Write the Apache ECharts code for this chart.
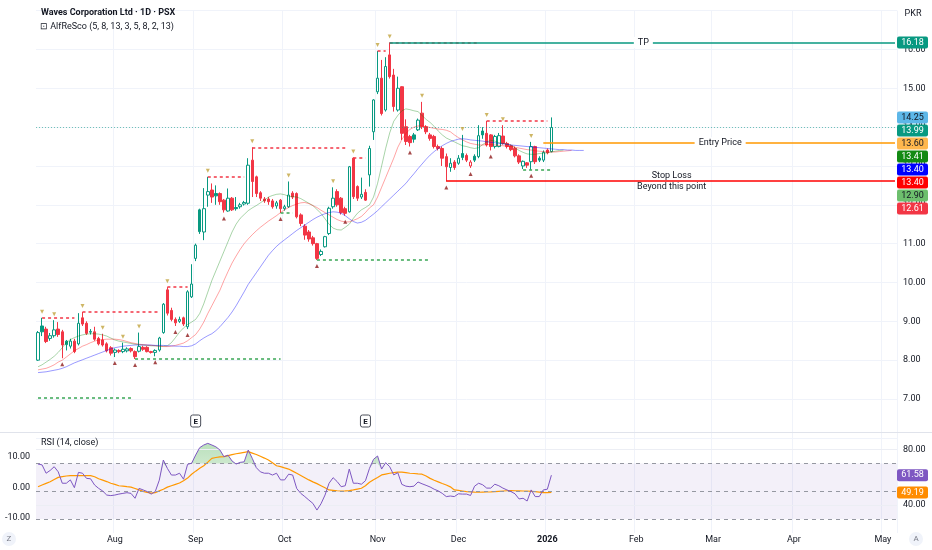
<!DOCTYPE html>
<html>
<head>
<meta charset="utf-8">
<script src="https://cdn.jsdelivr.net/npm/echarts@6/dist/echarts.min.js"></script>
<style>
html,body{margin:0;padding:0;background:#ffffff;}
#c{width:932px;height:550px;}
</style>
</head>
<body>
<div id="c"></div>
<script>
// ---------- calendar (trading days) ----------
const startDate = '2025-07-07';
const holidays = ['2025-08-14','2025-12-25','2026-02-05','2026-03-20','2026-03-23'];
const categoryCount = 213;
const monthNames = ['Jan','Feb','Mar','Apr','May','Jun','Jul','Aug','Sep','Oct','Nov','Dec'];

// ---------- candles ----------
const opens = [8.00,8.88,8.80,8.56,8.63,8.80,8.73,8.49,8.36,8.49,
 8.42,9.09,8.95,8.72,8.73,8.56,8.52,8.42,8.32,8.20,
 8.25,8.22,8.24,8.30,8.22,8.23,8.33,8.33,8.22,8.20,
 8.26,8.71,9.81,9.28,9.05,9.00,9.09,8.86,9.63,10.62,
 11.87,11.30,12.25,12.38,12.29,12.29,12.12,11.84,12.17,11.93,
 11.95,12.02,12.04,13.15,12.72,12.31,12.15,12.15,12.10,11.97,
 12.12,11.90,11.95,12.30,12.29,11.74,11.45,11.30,11.15,11.00,
 10.72,10.92,11.26,11.95,12.34,12.17,11.90,11.82,13.20,12.47,
 12.20,12.32,12.77,13.88,14.91,15.26,14.44,15.86,15.34,14.44,
 15.04,14.01,13.76,13.80,13.93,14.36,14.01,13.80,13.76,13.50,
 13.45,13.24,12.96,13.10,13.07,13.32,13.27,13.00,13.25,13.24,
 13.90,13.84,13.80,13.50,13.50,13.77,13.58,13.52,13.45,13.26,
 13.00,13.08,13.11,13.50,13.20,13.15,13.41,13.37];
const highs = [8.75,9.09,8.86,8.70,9.03,8.98,8.78,8.52,8.55,8.55,
 9.21,9.24,9.00,8.80,8.86,8.60,8.68,8.46,8.36,8.30,
 8.28,8.45,8.33,8.33,8.25,8.71,8.37,8.36,8.24,8.28,
 8.60,9.47,9.88,9.35,9.10,9.12,9.12,9.80,10.47,11.00,
 11.90,12.43,12.72,12.55,12.50,12.32,12.15,12.42,12.20,12.20,
 12.05,12.10,13.20,13.48,12.75,12.35,12.20,12.20,12.15,12.10,
 12.15,12.00,12.60,12.35,12.32,11.78,11.50,11.35,11.20,11.02,
 10.85,11.20,11.95,12.45,12.40,12.20,11.95,13.00,13.22,12.50,
 12.70,12.40,13.52,14.72,15.96,15.73,15.80,16.18,15.50,15.30,
 15.05,14.20,13.80,13.85,14.22,14.65,14.05,13.85,13.80,13.55,
 13.50,13.32,13.20,13.15,13.28,13.80,13.32,13.15,13.30,14.05,
 14.00,14.16,13.82,13.80,13.85,14.05,13.62,13.55,13.50,13.30,
 13.14,13.10,13.62,13.52,13.25,13.40,13.45,14.25];
const lows = [7.98,8.62,8.44,8.50,8.58,8.60,8.05,8.25,8.30,8.18,
 8.38,8.88,8.65,8.66,8.50,8.38,8.35,8.20,8.12,8.08,
 8.18,8.18,8.20,8.20,8.03,8.20,8.24,8.20,8.17,8.10,
 8.22,8.68,9.15,9.00,8.88,8.96,8.88,8.80,9.60,10.55,
 11.25,11.09,11.95,12.05,12.00,12.00,11.80,11.82,11.84,11.85,
 11.90,11.98,12.00,12.20,12.20,12.10,12.05,12.00,11.90,11.90,
 11.79,11.85,11.92,12.15,11.65,11.45,11.10,11.05,10.95,10.58,
 10.68,10.90,11.22,11.90,11.95,11.75,11.72,11.80,12.15,12.10,
 12.15,12.10,12.47,13.67,14.85,14.30,14.40,15.25,14.40,14.40,
 13.67,13.54,13.50,13.60,13.90,13.95,13.82,13.65,13.45,13.40,
 13.00,12.60,12.85,12.90,13.03,13.15,13.10,12.95,13.10,13.20,
 13.70,13.50,13.40,13.45,13.48,13.55,13.45,13.38,13.22,13.05,
 12.92,12.95,12.90,13.05,13.10,13.10,13.30,13.35];
const closes = [8.71,8.73,8.48,8.63,8.78,8.66,8.39,8.40,8.49,8.22,
 8.95,8.93,8.69,8.74,8.54,8.42,8.39,8.24,8.18,8.26,
 8.22,8.28,8.29,8.24,8.09,8.35,8.28,8.22,8.20,8.25,
 8.57,9.44,9.21,9.05,8.96,9.05,8.93,9.76,9.96,10.96,
 11.31,11.90,12.34,12.20,12.23,12.08,11.87,12.17,11.87,11.90,
 12.00,12.06,13.02,12.60,12.29,12.17,12.10,12.08,11.95,12.05,
 11.90,11.95,12.25,12.20,11.69,11.52,11.22,11.12,11.00,10.62,
 10.80,11.18,11.91,12.17,12.00,11.80,11.78,12.98,12.21,12.17,
 12.27,12.12,13.45,14.70,15.26,14.35,15.56,15.30,14.53,15.00,
 13.84,13.63,13.60,13.69,14.18,14.01,13.88,13.71,13.50,13.45,
 13.20,12.98,13.07,12.96,13.20,13.22,13.15,13.10,13.15,13.78,
 13.80,13.54,13.50,13.76,13.78,13.58,13.50,13.42,13.26,13.10,
 13.12,13.02,13.50,13.11,13.15,13.35,13.34,13.99];

// ---------- AlfReSco alligator lines (shifted forward) ----------
const lipsLine = [7.83,7.88,7.95,8.02,8.10,8.20,8.32,8.45,8.53,8.58,
 8.62,8.65,8.67,8.68,8.68,8.67,8.65,8.62,8.57,8.52,
 8.49,8.47,8.45,8.43,8.41,8.40,8.39,8.38,8.37,8.37,
 8.36,8.36,8.37,8.45,8.58,8.72,8.83,8.92,8.98,9.05,
 9.20,9.45,9.75,10.05,10.30,10.55,10.80,11.05,11.30,11.50,
 11.65,11.75,11.85,11.92,11.98,12.05,12.12,12.20,12.24,12.27,
 12.28,12.26,12.22,12.21,12.20,12.16,12.10,12.04,11.98,11.88,
 11.78,11.64,11.50,11.40,11.36,11.35,11.42,11.50,11.65,11.78,
 11.87,11.93,12.00,12.20,12.55,13.00,13.45,13.85,14.15,14.30,
 14.42,14.47,14.45,14.42,14.40,14.30,14.20,14.12,14.02,13.90,
 13.80,13.72,13.67,13.62,13.57,13.52,13.50,13.47,13.45,13.47,
 13.55,13.62,13.66,13.64,13.60,13.58,13.56,13.54,13.47,13.40,
 13.35,13.31,13.30,13.30,13.32,13.33,13.34,13.36,13.38,13.40,
 13.41];
const teethLine = [7.75,7.77,7.79,7.83,7.88,7.95,8.00,8.08,8.16,8.24,
 8.30,8.36,8.40,8.45,8.49,8.52,8.53,8.54,8.54,8.54,
 8.53,8.51,8.48,8.45,8.43,8.41,8.40,8.39,8.38,8.37,
 8.36,8.35,8.35,8.36,8.38,8.41,8.44,8.50,8.58,8.66,
 8.80,8.98,9.20,9.40,9.60,9.80,10.05,10.28,10.50,10.68,
 10.85,11.00,11.12,11.23,11.33,11.42,11.50,11.58,11.65,11.72,
 11.80,11.87,11.93,11.98,12.02,12.05,12.06,12.03,11.98,11.93,
 11.86,11.80,11.74,11.68,11.62,11.58,11.56,11.56,11.60,11.64,
 11.70,11.80,11.92,12.00,12.20,12.45,12.70,12.95,13.20,13.48,
 13.68,13.84,13.94,14.00,14.03,14.03,14.01,13.99,13.97,13.95,
 13.94,13.92,13.88,13.80,13.73,13.67,13.62,13.58,13.56,13.54,
 13.54,13.55,13.55,13.54,13.53,13.52,13.51,13.50,13.48,13.46,
 13.44,13.42,13.41,13.39,13.38,13.37,13.36,13.36,13.36,13.37,
 13.38,13.39,13.40];
const jawLine = [7.68,7.69,7.70,7.72,7.74,7.76,7.79,7.83,7.88,7.93,
 7.97,8.01,8.05,8.09,8.13,8.17,8.21,8.25,8.29,8.32,
 8.34,8.36,8.37,8.38,8.39,8.39,8.39,8.39,8.39,8.38,
 8.38,8.38,8.37,8.37,8.36,8.36,8.35,8.35,8.37,8.42,
 8.50,8.57,8.63,8.68,8.76,8.86,8.98,9.10,9.24,9.40,
 9.58,9.76,9.95,10.10,10.25,10.40,10.55,10.70,10.82,10.93,
 11.02,11.10,11.18,11.26,11.34,11.41,11.48,11.55,11.62,11.68,
 11.73,11.77,11.80,11.82,11.81,11.78,11.72,11.64,11.57,11.53,
 11.55,11.60,11.68,11.76,11.85,11.95,12.05,12.15,12.25,12.35,
 12.45,12.55,12.68,12.80,12.93,13.05,13.17,13.28,13.37,13.45,
 13.52,13.58,13.63,13.66,13.69,13.70,13.69,13.67,13.66,13.65,
 13.64,13.62,13.61,13.60,13.58,13.57,13.56,13.54,13.53,13.52,
 13.51,13.50,13.49,13.48,13.47,13.46,13.45,13.44,13.43,13.42,
 13.42,13.41,13.41,13.40,13.40,13.40];

// ---------- fractals and their levels ----------
const fractalHighIdx = [1,4,11,16,21,25,32,42,53,62,73,78,84,87,95,105,111,115,122];
const fractalLowIdx = [6,19,24,29,34,37,46,60,69,76,92,101,107,112,122];
const resistanceSegs = [[1,9,9.09],[11,30,9.24],[32,37,9.88],[42,51,12.72],[53,76,13.48],[78,81,13.20],[84,86,15.96],[87,109,16.18],[111,126,14.16]];
const supportSegs = [[0,23,7.03],[24,60,8.03],[60,63,11.79],[69,97,10.58],[120,127,12.90]];

// ---------- trade plan drawings ----------
const tpLevel = 16.18, tpStartIdx = 87;
const entryLevel = 13.60, entryStartIdx = 125;
const stopLevel = 12.61, stopStartIdx = 101;
const earningsIdx = [39, 81];

// ---------- RSI ----------
const rsiValues = [69.6,69.0,63.0,65.0,67.7,64.0,55.8,55.8,58.2,52.6,
 63.6,63.0,59.3,59.0,54.5,52.1,50.2,47.3,46.9,47.3,
 48.0,48.5,49.0,48.5,45.0,52.1,51.0,49.8,48.0,49.8,
 58.0,72.5,66.5,61.7,61.7,63.0,58.7,69.4,70.2,76.1,
 81.4,83.3,84.5,83.3,82.0,79.7,74.9,76.0,71.8,69.6,
 70.8,71.2,79.7,73.7,67.0,64.0,63.0,63.0,61.7,63.0,
 58.2,58.2,62.3,61.7,52.0,48.5,46.2,43.7,41.3,36.5,
 41.0,47.3,55.8,59.8,57.0,53.3,54.0,66.0,55.8,55.8,
 55.1,57.6,66.5,73.0,75.4,66.0,70.6,67.7,61.8,63.4,
 55.0,53.7,53.3,53.7,56.7,55.4,54.3,53.1,51.5,50.3,
 48.5,46.2,46.6,46.2,48.2,48.0,48.0,47.0,53.7,55.8,
 54.7,52.3,52.3,55.1,54.0,52.3,51.0,49.8,48.2,44.5,
 45.0,43.0,51.0,46.2,46.2,51.0,51.5,61.58];
const rsiMaValues = [53.3,54.5,55.7,56.9,58.5,60.0,60.5,61.0,61.3,61.3,
 61.3,61.3,61.3,61.3,60.5,59.0,58.0,57.0,55.8,55.0,
 54.0,53.7,53.3,53.0,52.0,51.0,50.0,49.2,48.7,49.0,
 50.3,51.5,53.0,54.0,55.0,56.0,57.6,59.5,62.3,64.5,
 66.5,68.4,71.0,73.7,74.3,74.7,75.0,75.7,76.4,77.0,
 77.5,78.0,78.5,77.5,76.5,75.2,73.9,72.5,70.5,68.4,
 67.7,66.8,66.0,64.5,63.0,61.4,59.8,58.2,56.8,55.5,
 54.0,52.5,51.0,50.7,50.4,50.2,50.3,50.5,51.0,51.6,
 52.2,54.0,56.5,58.3,60.0,61.8,62.4,63.0,63.4,63.8,
 63.8,63.5,63.0,62.8,62.5,62.3,61.0,59.3,58.0,56.8,
 55.6,54.5,53.2,51.0,50.6,50.2,49.8,49.6,49.4,49.3,
 49.4,49.5,49.6,49.8,50.0,50.2,50.4,50.5,50.4,50.3,
 50.2,50.2,50.0,49.7,49.4,49.0,49.1,49.19];
const rsiBands = [70, 50, 30];
const rsiFaintLevels = [80, 40];

// ---------- build ----------
function buildDates(){
  const out = [];
  let t = Date.parse(startDate + 'T00:00:00Z');
  while (out.length < categoryCount){
    const d = new Date(t);
    const dow = d.getUTCDay();
    const s = d.toISOString().slice(0,10);
    if (dow !== 0 && dow !== 6 && holidays.indexOf(s) < 0) out.push(s);
    t += 86400000;
  }
  return out;
}
const dates = buildDates();
const lastIdx = dates.length - 1;
const isMonthStart = (i) => i > 0 && dates[i].slice(0,7) !== dates[i-1].slice(0,7);

const UP = '#089981', DOWN = '#f23645';
const candleData = opens.map((o, i) => {
  const c = closes[i];
  const prev = i > 0 ? closes[i-1] : o;
  const col = c >= prev ? UP : DOWN;
  const fill = c > o ? '#ffffff' : col;
  return {value:[o, c, lows[i], highs[i]], itemStyle:{color:fill, color0:fill, borderColor:col, borderColor0:col, borderWidth:1}};
});

const FONT = 'Roboto, "Noto Sans", sans-serif';
const TXT = '#131722';

const segLines = [];
resistanceSegs.forEach(s => segLines.push([
  {coord:[s[0], s[2]], lineStyle:{color:'#f23645', width:1.5, type:[3,3]}},
  {coord:[s[1], s[2]]}
]));
supportSegs.forEach(s => segLines.push([
  {coord:[s[0], s[2]], lineStyle:{color:'#3aa655', width:1.5, type:[3,3]}},
  {coord:[s[1], s[2]]}
]));
const drawLines = [
  [{coord:[tpStartIdx, tpLevel], lineStyle:{color:'#089981', width:1.5, type:'solid'}}, {coord:[lastIdx, tpLevel]}],
  [{coord:[entryStartIdx, entryLevel], lineStyle:{color:'#ff9800', width:1.5, type:'solid'}}, {coord:[lastIdx, entryLevel]}],
  [{coord:[stopStartIdx, stopLevel], lineStyle:{color:'#ff0000', width:1.5, type:'solid'}}, {coord:[lastIdx, stopLevel]}],
  {yAxis: closes[closes.length-1], lineStyle:{color:'rgba(8,153,129,0.55)', width:1, type:[1,2]}}
];

const axisLabelMonth = {
  interval: (i) => isMonthStart(i),
  formatter: (v) => {
    const m = parseInt(v.slice(5,7), 10);
    return m === 1 ? '{y|' + v.slice(0,4) + '}' : monthNames[m-1];
  },
  color: TXT, fontSize: 9, fontFamily: FONT, margin: 2,
  rich: {y: {fontWeight: 'bold', fontSize: 9, color: TXT, fontFamily: FONT}}
};

const option = {
  animation: false,
  backgroundColor: '#ffffff',
  grid: [
    {left: 36, right: 35, top: 10.6, height: 427.24},
    {left: 36, right: 35, top: 435.7, height: 97.3}
  ],
  xAxis: [
    {type:'category', gridIndex:0, data:dates, boundaryGap:true,
     axisLine:{show:false}, axisTick:{show:false}, axisLabel:{show:false},
     splitLine:{show:true, interval:(i)=>isMonthStart(i), lineStyle:{color:'#f0f3fa', width:1}}},
    {type:'category', gridIndex:1, data:dates, boundaryGap:true,
     axisLine:{show:false}, axisTick:{show:false}, axisLabel:axisLabelMonth,
     splitLine:{show:true, interval:(i)=>isMonthStart(i), lineStyle:{color:'#f0f3fa', width:1}}}
  ],
  yAxis: [
    {type:'value', gridIndex:0, position:'right', min:6, max:17, interval:1,
     axisLine:{show:false}, axisTick:{show:false},
     axisLabel:{formatter:(v)=> (v > 6 && v < 17) ? v.toFixed(2) : '', color:TXT, fontSize:9, fontFamily:FONT, margin:6},
     splitLine:{show:true, lineStyle:{color:'#f0f3fa', width:1}}},
    {type:'value', gridIndex:1, position:'right', min:20, max:90, interval:10,
     axisLine:{show:false}, axisTick:{show:false},
     axisLabel:{formatter:(v)=> rsiFaintLevels.indexOf(v) >= 0 ? v.toFixed(2) : '', color:TXT, fontSize:9, fontFamily:FONT, margin:6},
     splitLine:{show:false}},
    {type:'value', gridIndex:1, position:'left', min:-15, max:17, interval:5,
     axisLine:{show:false}, axisTick:{show:false},
     axisLabel:{formatter:(v)=> (v === 10 || v === 0 || v === -10) ? v.toFixed(2) : '', color:TXT, fontSize:9, fontFamily:FONT, margin:6},
     splitLine:{show:false}}
  ],
  series: [
    {type:'candlestick', name:'price', xAxisIndex:0, yAxisIndex:0, data:candleData, barWidth:3, z:3, silent:true},
    {type:'line', name:'lips', xAxisIndex:0, yAxisIndex:0, data:lipsLine, showSymbol:false, symbol:'none', silent:true,
     lineStyle:{color:'rgba(0,128,0,0.34)', width:1}, z:4},
    {type:'line', name:'teeth', xAxisIndex:0, yAxisIndex:0, data:teethLine, showSymbol:false, symbol:'none', silent:true,
     lineStyle:{color:'rgba(255,0,0,0.36)', width:1}, z:4},
    {type:'line', name:'jaw', xAxisIndex:0, yAxisIndex:0, data:jawLine, showSymbol:false, symbol:'none', silent:true,
     lineStyle:{color:'rgba(0,0,255,0.4)', width:1}, z:4,
     markLine:{silent:true, symbol:['none','none'], label:{show:false}, animation:false, data: segLines.concat(drawLines)}},
    {type:'scatter', name:'fractalHigh', xAxisIndex:0, yAxisIndex:0, silent:true,
     data: fractalHighIdx.map(i => [i, highs[i]]),
     symbol:'triangle', symbolRotate:180, symbolSize:[4,4], symbolOffset:[0,-6], itemStyle:{color:'#c2a43f'}, z:6},
    {type:'scatter', name:'fractalLow', xAxisIndex:0, yAxisIndex:0, silent:true,
     data: fractalLowIdx.map(i => [i, lows[i]]),
     symbol:'triangle', symbolSize:[4,4], symbolOffset:[0,6], itemStyle:{color:'#8e1c1c'}, z:6},
    // RSI pane
    {type:'line', name:'obBase', xAxisIndex:1, yAxisIndex:1, stack:'ob', silent:true,
     data: rsiValues.map(v => Math.min(v, 70)), showSymbol:false, symbol:'none', lineStyle:{opacity:0}, z:2},
    {type:'line', name:'obFill', xAxisIndex:1, yAxisIndex:1, stack:'ob', silent:true,
     data: rsiValues.map(v => Math.max(v - 70, 0)), showSymbol:false, symbol:'none', lineStyle:{opacity:0},
     areaStyle:{color:{type:'linear', x:0, y:0, x2:0, y2:1, colorStops:[{offset:0, color:'rgba(76,175,80,0.55)'},{offset:1, color:'rgba(76,175,80,0.08)'}]}}, z:2},
    {type:'line', name:'rsi', xAxisIndex:1, yAxisIndex:1, data:rsiValues, showSymbol:false, symbol:'none', silent:true,
     lineStyle:{color:'#7e57c2', width:1}, z:5,
     markArea:{silent:true, itemStyle:{color:'rgba(126,87,194,0.09)'}, data:[[{yAxis:rsiBands[0]},{yAxis:rsiBands[2]}]]},
     markLine:{silent:true, symbol:['none','none'], label:{show:false}, animation:false,
       data: rsiBands.map(v => ({yAxis:v, lineStyle:{color:'#9598a1', width:1, type:[4,4]}}))
         .concat(rsiFaintLevels.map(v => ({yAxis:v, lineStyle:{color:'#eceef4', width:1, type:'solid'}})))}},
    {type:'line', name:'rsiMA', xAxisIndex:1, yAxisIndex:1, data:rsiMaValues, showSymbol:false, symbol:'none', silent:true,
     lineStyle:{color:'#ff9800', width:1.2}, z:4}
  ]
};

const chart = echarts.init(document.getElementById('c'), null, {renderer:'canvas'});
chart.setOption(option);

// ---------- overlays positioned through the chart's own scales ----------
const g = [];
function txt(x, y, text, opts){
  const o = opts || {};
  return {type:'text', x:x, y:y, z:o.z || 100, silent:true,
    style:Object.assign({text:text, fill:o.fill || TXT, font:o.font || ('9px ' + FONT),
      align:o.align || 'left', verticalAlign:'middle', textAlign:o.align || 'left', textVerticalAlign:'middle'}, o.extra || {})};
}
// pane separator
g.push({type:'line', silent:true, z:50, shape:{x1:0, y1:432.5, x2:932, y2:432.5}, style:{stroke:'#e0e3eb', lineWidth:1}});
// header
g.push(txt(41, 13, 'Waves Corporation Ltd \u00b7 1D \u00b7 PSX', {font:'bold 9px ' + FONT}));
g.push(txt(40, 27, '\u22a1 AlfReSco (5, 8, 13, 3, 5, 8, 2, 13)', {font:'9px ' + FONT}));
g.push(txt(913, 14, 'PKR', {align:'center', font:'9px ' + FONT}));
g.push(txt(41, 443, 'RSI (14, close)', {font:'9px ' + FONT}));
// bottom corner buttons
g.push({type:'circle', silent:true, z:90, shape:{cx:9, cy:539, r:7}, style:{fill:'#f0f3fa'}});
g.push(txt(9, 539, 'Z', {align:'center', font:'8px ' + FONT, fill:'#787b86'}));
g.push({type:'circle', silent:true, z:90, shape:{cx:916, cy:539, r:7}, style:{fill:'#f0f3fa'}});
g.push(txt(916, 539, 'A', {align:'center', font:'8px ' + FONT, fill:'#787b86'}));

// earnings markers
earningsIdx.forEach(i => {
  const x = chart.convertToPixel({xAxisIndex:0}, i);
  g.push({type:'rect', silent:true, z:95, shape:{x:x-5, y:415, width:10, height:12, r:2}, style:{fill:'#ffffff', stroke:'#4a4e59', lineWidth:1}});
  g.push(txt(x, 421.5, 'E', {align:'center', font:'bold 8px ' + FONT, fill:'#131722', z:96}));
});

// drawing labels centered on their lines
const rightEdge = 932 - 35;
function lineLabel(startIdx, level, text, withBg){
  const x0 = chart.convertToPixel({xAxisIndex:0}, startIdx);
  const y = chart.convertToPixel({yAxisIndex:0}, level);
  const extra = withBg ? {backgroundColor:'#ffffff', padding:[1,4]} : {lineHeight:11};
  g.push(txt((x0 + rightEdge) / 2, y, text, {align:'center', font:'9px ' + FONT, extra:extra, z:60}));
}
lineLabel(tpStartIdx, tpLevel, 'TP', true);
lineLabel(entryStartIdx, entryLevel, 'Entry Price', true);
lineLabel(stopStartIdx, stopLevel, 'Stop Loss\nBeyond this point', false);

// price scale tags
const lastI = closes.length - 1;
const priceTags = [
  {v: tpLevel, bg:'#089981', fg:'#ffffff'},
  {v: highs[lastI], bg:'#5db7e8', fg:'#131722'},
  {v: closes[lastI], bg:'#089981', fg:'#ffffff'},
  {v: entryLevel, bg:'#ffb74d', fg:'#131722'},
  {v: lipsLine[lipsLine.length-1], bg:'#138a13', fg:'#ffffff'},
  {v: jawLine[jawLine.length-1], bg:'#0000ff', fg:'#ffffff'},
  {v: teethLine[teethLine.length-1], bg:'#ff0000', fg:'#ffffff'},
  {v: supportSegs[supportSegs.length-1][2], bg:'#6dbf6d', fg:'#131722'},
  {v: stopLevel, bg:'#f23645', fg:'#ffffff'}
];
function placeTags(tags, axisIdx){
  tags.forEach(t => { t.y = chart.convertToPixel({yAxisIndex:axisIdx}, t.v); });
  const sorted = tags.slice().sort((a, b) => a.y - b.y);
  for (let k = 1; k < sorted.length; k++){
    if (sorted[k].y < sorted[k-1].y + 13) sorted[k].y = sorted[k-1].y + 13;
  }
  sorted.forEach(t => {
    g.push({type:'rect', silent:true, z:100, shape:{x:rightEdge, y:t.y-6, width:31, height:12, r:2}, style:{fill:t.bg}});
    g.push(txt(rightEdge + 15.5, t.y, t.v.toFixed(2), {align:'center', font:'9px ' + FONT, fill:t.fg, z:101}));
  });
}
placeTags(priceTags, 0);
placeTags([
  {v: rsiValues[rsiValues.length-1], bg:'#7e57c2', fg:'#ffffff'},
  {v: rsiMaValues[rsiMaValues.length-1], bg:'#ff8c00', fg:'#ffffff'}
], 1);

chart.setOption({graphic: g});
</script>
</body>
</html>
